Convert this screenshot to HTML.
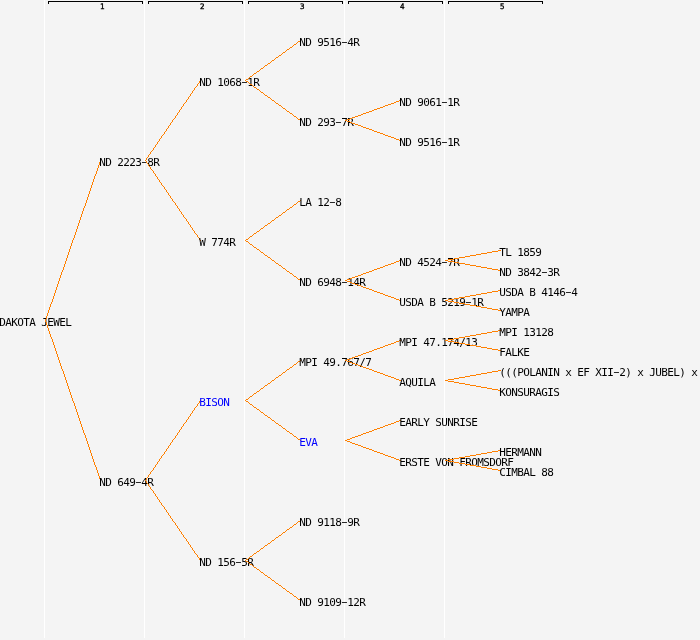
<!DOCTYPE html>
<html><head><meta charset="utf-8"><title>Pedigree</title>
<style>
html,body{margin:0;padding:0;}
body{width:700px;height:640px;overflow:hidden;background:#f4f4f4;position:relative;}
#c{position:absolute;left:0;top:0;width:700px;height:640px;overflow:hidden;background:#f4f4f4;}
#tx{position:absolute;left:0;top:0;width:700px;height:640px;overflow:hidden;will-change:transform;}
.v{position:absolute;top:0;width:1px;height:638px;background:#fff;}
.n{position:absolute;white-space:pre;font-family:"DejaVu Sans Mono","Liberation Mono",monospace;font-size:11px;letter-spacing:-0.6226px;line-height:13px;height:13px;color:#000;}
.b{color:#00f;}
.h{display:inline-block;transform:translate(0px,-1px) scale(1.8,1);}
.g{position:absolute;top:1px;width:95px;height:3px;border:1px solid #000;border-bottom:none;box-sizing:border-box;}
.t{position:absolute;top:3px;font-family:"DejaVu Sans Mono","Liberation Mono",monospace;font-size:7.5px;line-height:8px;height:8px;color:#000;white-space:pre;-webkit-text-stroke:0.35px #000;}
svg{position:absolute;left:0;top:0;pointer-events:none;}
</style></head><body><div id="c">

<div class="v" style="left:44px"></div>
<div class="v" style="left:144px"></div>
<div class="v" style="left:244px"></div>
<div class="v" style="left:344px"></div>
<div class="v" style="left:444px"></div>
<div class="g" style="left:48px"></div>
<div class="g" style="left:148px"></div>
<div class="g" style="left:248px"></div>
<div class="g" style="left:348px"></div>
<div class="g" style="left:448px"></div>
<div id="tx">
<div class="t" style="left:100px">1</div>
<div class="t" style="left:200px">2</div>
<div class="t" style="left:300px">3</div>
<div class="t" style="left:400px">4</div>
<div class="t" style="left:500px">5</div>
<div class="n" style="left:-0.75px;top:316px">DAKOTA JEWEL</div>
<svg width="700" height="640" viewBox="0 0 700 640"><polygon points="100.172,160 101.172,160 45.828,321 44.828,321" fill="#ff8000" shape-rendering="crispEdges"/></svg>
<div class="n" style="left:99.25px;top:156px">ND 2223<span class="h">-</span>8R</div>
<svg width="700" height="640" viewBox="0 0 700 640"><polygon points="200.344,80 201.344,80 145.656,161 144.656,161" fill="#ff8000" shape-rendering="crispEdges"/></svg>
<div class="n" style="left:199.25px;top:76px">ND 1068<span class="h">-</span>1R</div>
<svg width="700" height="640" viewBox="0 0 700 640"><polygon points="245,80.364 301,39.636 301,40.636 245,81.364" fill="#ff8000" shape-rendering="crispEdges"/></svg>
<div class="n" style="left:299.25px;top:36px">ND 9516<span class="h">-</span>4R</div>
<svg width="700" height="640" viewBox="0 0 700 640"><polygon points="245,79.636 301,120.364 301,121.364 245,80.636" fill="#ff8000" shape-rendering="crispEdges"/></svg>
<div class="n" style="left:299.25px;top:116px">ND 293<span class="h">-</span>7R</div>
<svg width="700" height="640" viewBox="0 0 700 640"><polygon points="345,120.182 401,99.818 401,100.818 345,121.182" fill="#ff8000" shape-rendering="crispEdges"/></svg>
<div class="n" style="left:399.25px;top:96px">ND 9061<span class="h">-</span>1R</div>
<svg width="700" height="640" viewBox="0 0 700 640"><polygon points="345,119.818 401,140.182 401,141.182 345,120.818" fill="#ff8000" shape-rendering="crispEdges"/></svg>
<div class="n" style="left:399.25px;top:136px">ND 9516<span class="h">-</span>1R</div>
<svg width="700" height="640" viewBox="0 0 700 640"><polygon points="144.656,160 145.656,160 201.344,241 200.344,241" fill="#ff8000" shape-rendering="crispEdges"/></svg>
<div class="n" style="left:199.25px;top:236px">W 774R</div>
<svg width="700" height="640" viewBox="0 0 700 640"><polygon points="245,240.364 301,199.636 301,200.636 245,241.364" fill="#ff8000" shape-rendering="crispEdges"/></svg>
<div class="n" style="left:299.25px;top:196px">LA 12<span class="h">-</span>8</div>
<svg width="700" height="640" viewBox="0 0 700 640"><polygon points="245,239.636 301,280.364 301,281.364 245,240.636" fill="#ff8000" shape-rendering="crispEdges"/></svg>
<div class="n" style="left:299.25px;top:276px">ND 6948<span class="h">-</span>14R</div>
<svg width="700" height="640" viewBox="0 0 700 640"><polygon points="345,280.182 401,259.818 401,260.818 345,281.182" fill="#ff8000" shape-rendering="crispEdges"/></svg>
<div class="n" style="left:399.25px;top:256px">ND 4524<span class="h">-</span>7R</div>
<svg width="700" height="640" viewBox="0 0 700 640"><polygon points="445,260.091 501,249.909 501,250.909 445,261.091" fill="#ff8000" shape-rendering="crispEdges"/></svg>
<div class="n" style="left:499.25px;top:246px">TL 1859</div>
<svg width="700" height="640" viewBox="0 0 700 640"><polygon points="445,259.909 501,270.091 501,271.091 445,260.909" fill="#ff8000" shape-rendering="crispEdges"/></svg>
<div class="n" style="left:499.25px;top:266px">ND 3842<span class="h">-</span>3R</div>
<svg width="700" height="640" viewBox="0 0 700 640"><polygon points="345,279.818 401,300.182 401,301.182 345,280.818" fill="#ff8000" shape-rendering="crispEdges"/></svg>
<div class="n" style="left:399.25px;top:296px">USDA B 5219<span class="h">-</span>1R</div>
<svg width="700" height="640" viewBox="0 0 700 640"><polygon points="445,300.091 501,289.909 501,290.909 445,301.091" fill="#ff8000" shape-rendering="crispEdges"/></svg>
<div class="n" style="left:499.25px;top:286px">USDA B 4146<span class="h">-</span>4</div>
<svg width="700" height="640" viewBox="0 0 700 640"><polygon points="445,299.909 501,310.091 501,311.091 445,300.909" fill="#ff8000" shape-rendering="crispEdges"/></svg>
<div class="n" style="left:499.25px;top:306px">YAMPA</div>
<svg width="700" height="640" viewBox="0 0 700 640"><polygon points="44.828,320 45.828,320 101.172,481 100.172,481" fill="#ff8000" shape-rendering="crispEdges"/></svg>
<div class="n" style="left:99.25px;top:476px">ND 649<span class="h">-</span>4R</div>
<svg width="700" height="640" viewBox="0 0 700 640"><polygon points="200.344,400 201.344,400 145.656,481 144.656,481" fill="#ff8000" shape-rendering="crispEdges"/></svg>
<div class="n b" style="left:199.25px;top:396px">BISON</div>
<svg width="700" height="640" viewBox="0 0 700 640"><polygon points="245,400.364 301,359.636 301,360.636 245,401.364" fill="#ff8000" shape-rendering="crispEdges"/></svg>
<div class="n" style="left:299.25px;top:356px">MPI 49.767/7</div>
<svg width="700" height="640" viewBox="0 0 700 640"><polygon points="345,360.182 401,339.818 401,340.818 345,361.182" fill="#ff8000" shape-rendering="crispEdges"/></svg>
<div class="n" style="left:399.25px;top:336px">MPI 47.174/13</div>
<svg width="700" height="640" viewBox="0 0 700 640"><polygon points="445,340.091 501,329.909 501,330.909 445,341.091" fill="#ff8000" shape-rendering="crispEdges"/></svg>
<div class="n" style="left:499.25px;top:326px">MPI 13128</div>
<svg width="700" height="640" viewBox="0 0 700 640"><polygon points="445,339.909 501,350.091 501,351.091 445,340.909" fill="#ff8000" shape-rendering="crispEdges"/></svg>
<div class="n" style="left:499.25px;top:346px">FALKE</div>
<svg width="700" height="640" viewBox="0 0 700 640"><polygon points="345,359.818 401,380.182 401,381.182 345,360.818" fill="#ff8000" shape-rendering="crispEdges"/></svg>
<div class="n" style="left:399.25px;top:376px">AQUILA</div>
<svg width="700" height="640" viewBox="0 0 700 640"><polygon points="445,380.091 501,369.909 501,370.909 445,381.091" fill="#ff8000" shape-rendering="crispEdges"/></svg>
<div class="n" style="left:499.25px;top:366px">(((POLANIN x EF XII<span class="h">-</span>2) x JUBEL) x</div>
<svg width="700" height="640" viewBox="0 0 700 640"><polygon points="445,379.909 501,390.091 501,391.091 445,380.909" fill="#ff8000" shape-rendering="crispEdges"/></svg>
<div class="n" style="left:499.25px;top:386px">KONSURAGIS</div>
<svg width="700" height="640" viewBox="0 0 700 640"><polygon points="245,399.636 301,440.364 301,441.364 245,400.636" fill="#ff8000" shape-rendering="crispEdges"/></svg>
<div class="n b" style="left:299.25px;top:436px">EVA</div>
<svg width="700" height="640" viewBox="0 0 700 640"><polygon points="345,440.182 401,419.818 401,420.818 345,441.182" fill="#ff8000" shape-rendering="crispEdges"/></svg>
<div class="n" style="left:399.25px;top:416px">EARLY SUNRISE</div>
<svg width="700" height="640" viewBox="0 0 700 640"><polygon points="345,439.818 401,460.182 401,461.182 345,440.818" fill="#ff8000" shape-rendering="crispEdges"/></svg>
<div class="n" style="left:399.25px;top:456px">ERSTE VON FROMSDORF</div>
<svg width="700" height="640" viewBox="0 0 700 640"><polygon points="445,460.091 501,449.909 501,450.909 445,461.091" fill="#ff8000" shape-rendering="crispEdges"/></svg>
<div class="n" style="left:499.25px;top:446px">HERMANN</div>
<svg width="700" height="640" viewBox="0 0 700 640"><polygon points="445,459.909 501,470.091 501,471.091 445,460.909" fill="#ff8000" shape-rendering="crispEdges"/></svg>
<div class="n" style="left:499.25px;top:466px">CIMBAL 88</div>
<svg width="700" height="640" viewBox="0 0 700 640"><polygon points="144.656,480 145.656,480 201.344,561 200.344,561" fill="#ff8000" shape-rendering="crispEdges"/></svg>
<div class="n" style="left:199.25px;top:556px">ND 156<span class="h">-</span>5R</div>
<svg width="700" height="640" viewBox="0 0 700 640"><polygon points="245,560.364 301,519.636 301,520.636 245,561.364" fill="#ff8000" shape-rendering="crispEdges"/></svg>
<div class="n" style="left:299.25px;top:516px">ND 9118<span class="h">-</span>9R</div>
<svg width="700" height="640" viewBox="0 0 700 640"><polygon points="245,559.636 301,600.364 301,601.364 245,560.636" fill="#ff8000" shape-rendering="crispEdges"/></svg>
<div class="n" style="left:299.25px;top:596px">ND 9109<span class="h">-</span>12R</div>
</div></div></body></html>
